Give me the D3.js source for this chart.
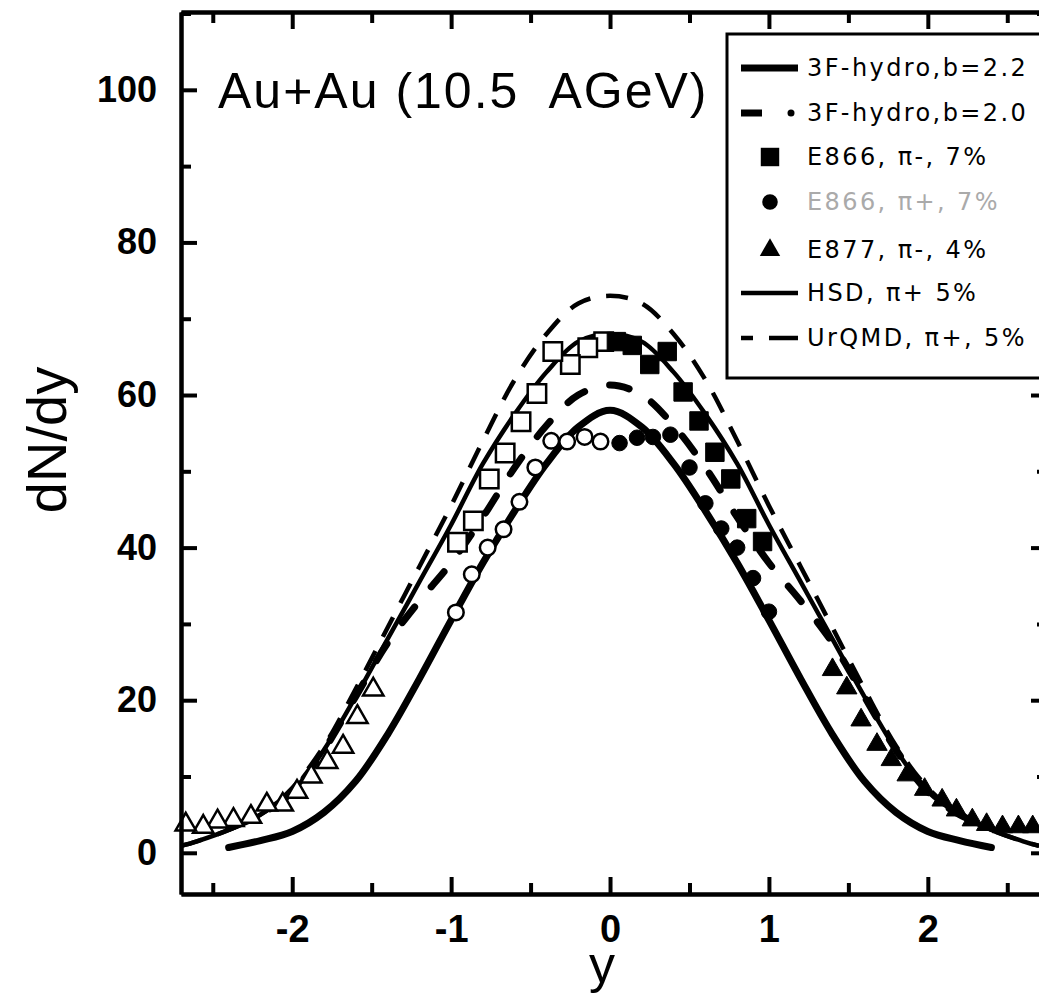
<!DOCTYPE html>
<html>
<head>
<meta charset="utf-8">
<script src="https://cdn.jsdelivr.net/npm/d3@7"></script>
<style>
  body { margin: 0; background: #fff; }
  svg { display: block; }
  .tick text { font-family: "Liberation Sans", Arial, sans-serif; font-weight: bold; }
</style>
</head>
<body>
<script>
// ---- data ----
var yTicksMajor = [0, 20, 40, 60, 80, 100];
var yTicksMinor = [10, 30, 50, 70, 90, 110];
var xTicksMajor = [-2, -1, 0, 1, 2];
var xTicksMinor = [-2.5, -1.5, -0.5, 0.5, 1.5, 2.5];

// 3F-hydro b=2.2 (thick solid)
var hydro22Y = [-2.4, -2.2, -2.0, -1.8, -1.6, -1.4, -1.2, -1.0, -0.8, -0.6, -0.4, -0.2, 0, 0.2, 0.4, 0.6, 0.8, 1.0, 1.2, 1.4, 1.6, 1.8, 2.0, 2.2, 2.4];
var hydro22V = [0.7, 1.6, 2.8, 5.3, 9.4, 15.5, 22.8, 30.5, 38, 44.8, 51, 55.8, 58, 55.8, 51, 44.8, 38, 30.5, 22.8, 15.5, 9.4, 5.3, 2.8, 1.6, 0.7];
// 3F-hydro b=2.0 (thick dashed)
var hydro20Y = [-2.4, -2.2, -2.0, -1.8, -1.6, -1.4, -1.2, -1.0, -0.8, -0.6, -0.4, -0.2, 0, 0.2, 0.4, 0.6, 0.8, 1.0, 1.2, 1.4, 1.6, 1.8, 2.0, 2.2, 2.4];
var hydro20V = [3.2, 5, 8, 13.5, 20.5, 27.5, 33, 38, 44, 50.5, 56, 60, 61.3, 60, 56, 50.5, 44, 38, 33, 27.5, 20.5, 13.5, 8, 5, 3.2];
// HSD (thin solid)
var hsdY = [-2.7, -2.6, -2.4, -2.2, -2.0, -1.8, -1.6, -1.4, -1.2, -1.0, -0.8, -0.6, -0.4, -0.2, 0, 0.2, 0.4, 0.6, 0.8, 1.0, 1.2, 1.4, 1.6, 1.8, 2.0, 2.2, 2.4, 2.6, 2.7];
var hsdV = [0.9, 1.5, 3, 5, 8, 13.5, 20.5, 28, 35.5, 43, 51, 57.5, 63, 67, 68, 67, 63, 57.5, 51, 43, 35.5, 28, 20.5, 13.5, 8, 5, 3, 1.5, 0.9];
// UrQMD (thin dashed)
var urqmdY = [-2.7, -2.6, -2.4, -2.2, -2.0, -1.8, -1.6, -1.4, -1.2, -1.0, -0.8, -0.6, -0.4, -0.2, 0, 0.2, 0.4, 0.6, 0.8, 1.0, 1.2, 1.4, 1.6, 1.8, 2.0, 2.2, 2.4, 2.6, 2.7];
var urqmdV = [0.9, 1.5, 3, 5, 8.5, 14, 21.5, 29.5, 37.5, 45.5, 54, 62, 68, 72, 73, 72, 68, 62, 54, 45.5, 37.5, 29.5, 21.5, 14, 8.5, 5, 3, 1.5, 0.9];

// E866 pi- (filled measured, open reflected)
var e866mY = [0.04, 0.14, 0.25, 0.36, 0.46, 0.56, 0.66, 0.76, 0.86, 0.96];
var e866mV = [67, 66.5, 64, 65.7, 60.4, 56.6, 52.5, 49, 43.8, 40.8];
var e866mReflY = [-0.04, -0.14, -0.25, -0.36, -0.46, -0.56, -0.66, -0.76, -0.86, -0.96];
var e866mReflV = [67, 66.2, 64, 65.7, 60.2, 56.5, 52.4, 49, 43.5, 40.7];
// E866 pi+
var e866pY = [0.06, 0.17, 0.27, 0.38, 0.5, 0.6, 0.7, 0.8, 0.9, 1.0];
var e866pV = [53.7, 54.4, 54.5, 54.8, 50.5, 45.8, 42.5, 40, 36, 31.6];
var e866pReflY = [-0.06, -0.16, -0.27, -0.37, -0.47, -0.57, -0.67, -0.77, -0.87, -0.97];
var e866pReflV = [53.9, 54.5, 53.9, 54, 50.5, 46, 42.4, 40, 36.5, 31.5];
// E877 pi-
var e877Y = [1.40, 1.49, 1.58, 1.68, 1.77, 1.87, 1.98, 2.09, 2.18, 2.28, 2.37, 2.47, 2.57, 2.66];
var e877V = [24, 21.6, 17.4, 14.2, 12.2, 10.2, 8.3, 6.9, 5.6, 4.3, 3.7, 3.4, 3.4, 3.4];
var e877ReflY = [-1.49, -1.59, -1.68, -1.78, -1.88, -1.97, -2.06, -2.16, -2.26, -2.37, -2.47, -2.56, -2.67];
var e877ReflV = [21.4, 17.8, 13.9, 11.9, 10, 8, 6.3, 6.3, 4.7, 4.3, 4.1, 3.4, 3.7];

var legendLabels = ["3F-hydro,b=2.2", "3F-hydro,b=2.0", "E866, \u03c0-, 7%", "E866, \u03c0+, 7%", "E877, \u03c0-, 4%", "HSD, \u03c0+ 5%", "UrQMD, \u03c0+, 5%"];

// ---- drawing ----
var W = 1039, H = 999;
var svg = d3.select("body").append("svg").attr("width", W).attr("height", H);

var x = d3.scaleLinear().domain([-2.7, 2.75]).range([181, 1047]);
var y = d3.scaleLinear().domain([-5.4, 110.2]).range([894, 12]);

function zip(a, b) { return a.map(function(d, i) { return [d, b[i]]; }); }

var line = d3.line()
    .x(function(d) { return x(d[0]); })
    .y(function(d) { return y(d[1]); })
    .curve(d3.curveCatmullRom);

var plot = svg.append("g").attr("class", "plot");

// curves
plot.append("path").datum(zip(urqmdY, urqmdV)).attr("d", line)
    .attr("fill", "none").attr("stroke", "#000").attr("stroke-width", 4.5)
    .attr("stroke-dasharray", "22,16");
plot.append("path").datum(zip(hsdY, hsdV)).attr("d", line)
    .attr("fill", "none").attr("stroke", "#000").attr("stroke-width", 4.5);
plot.append("path").datum(zip(hydro20Y, hydro20V)).attr("d", line)
    .attr("fill", "none").attr("stroke", "#000").attr("stroke-width", 7)
    .attr("stroke-linecap", "round").attr("stroke-dasharray", "20,26");
plot.append("path").datum(zip(hydro22Y, hydro22V)).attr("d", line)
    .attr("fill", "none").attr("stroke", "#000").attr("stroke-width", 7)
    .attr("stroke-linecap", "round");

// markers
var sq = d3.symbol().type(d3.symbolSquare).size(340);
var ci = d3.symbol().type(d3.symbolCircle).size(190);
var tr = d3.symbol().type(d3.symbolTriangle).size(180);

function marks(ys, vs, sym, filled) {
    plot.append("g").selectAll("path")
        .data(zip(ys, vs))
        .enter().append("path")
        .attr("transform", function(d) { return "translate(" + x(d[0]) + "," + y(d[1]) + ")"; })
        .attr("d", sym)
        .attr("fill", filled ? "#000" : "#fff")
        .attr("stroke", "#000")
        .attr("stroke-width", filled ? 1 : 2.5);
}
marks(e866mReflY, e866mReflV, sq, false);
marks(e866mY, e866mV, sq, true);
marks(e866pReflY, e866pReflV, ci, false);
marks(e866pY, e866pV, ci, true);
marks(e877ReflY, e877ReflV, tr, false);
marks(e877Y, e877V, tr, true);

// axes, ticks pointing inward on all four sides
function styleAxis(g) {
    g.select(".domain").attr("stroke-width", 4);
    g.selectAll(".tick line").attr("stroke-width", 4);
}
svg.append("g").attr("transform", "translate(0,894)")
    .call(d3.axisBottom(x).tickValues(xTicksMajor).tickSizeInner(-17).tickSizeOuter(0).tickPadding(21)
        .tickFormat(function(d) { return String(d); }))
    .call(styleAxis)
    .selectAll("text").attr("font-size", 38);
svg.append("g").attr("transform", "translate(0,894)")
    .call(d3.axisBottom(x).tickValues(xTicksMinor).tickSizeInner(-11).tickSizeOuter(0).tickFormat(""))
    .call(styleAxis);
svg.append("g").attr("transform", "translate(0,12)")
    .call(d3.axisTop(x).tickValues(xTicksMajor).tickSizeInner(-17).tickSizeOuter(0).tickFormat(""))
    .call(styleAxis);
svg.append("g").attr("transform", "translate(0,12)")
    .call(d3.axisTop(x).tickValues(xTicksMinor).tickSizeInner(-11).tickSizeOuter(0).tickFormat(""))
    .call(styleAxis);
svg.append("g").attr("transform", "translate(181,0)")
    .call(d3.axisLeft(y).tickValues(yTicksMajor).tickSizeInner(-16).tickSizeOuter(0).tickPadding(24)
        .tickFormat(function(d) { return String(d); }))
    .call(styleAxis)
    .selectAll("text").attr("font-size", 36);
svg.append("g").attr("transform", "translate(181,0)")
    .call(d3.axisLeft(y).tickValues(yTicksMinor).tickSizeInner(-10).tickSizeOuter(0).tickFormat(""))
    .call(styleAxis);
svg.append("g").attr("transform", "translate(1047,0)")
    .call(d3.axisRight(y).tickValues(yTicksMajor).tickSizeInner(-16).tickSizeOuter(0).tickFormat(""))
    .call(styleAxis);
svg.append("g").attr("transform", "translate(1047,0)")
    .call(d3.axisRight(y).tickValues(yTicksMinor).tickSizeInner(-10).tickSizeOuter(0).tickFormat(""))
    .call(styleAxis);

// axis titles
svg.append("text").attr("x", 602).attr("y", 982)
    .attr("text-anchor", "middle").attr("font-family", "Liberation Sans, Arial, sans-serif")
    .attr("font-size", 52).text("y");
svg.append("text").attr("transform", "translate(66,440) rotate(-90)")
    .attr("text-anchor", "middle").attr("font-family", "Liberation Sans, Arial, sans-serif")
    .attr("font-size", 56).text("dN/dy");

// title inside the frame
svg.append("text").attr("x", 218).attr("y", 108)
    .attr("font-family", "Liberation Sans, Arial, sans-serif").attr("font-size", 50)
    .attr("letter-spacing", 2)
    .style("white-space", "pre").text("Au+Au (10.5  AGeV)");

// legend
var leg = svg.append("g").attr("class", "legend");
leg.append("rect").attr("x", 727).attr("y", 34).attr("width", 330).attr("height", 344)
    .attr("fill", "#fff").attr("stroke", "#000").attr("stroke-width", 3);
var rowY = [68, 113, 157, 202, 250, 293, 338];
leg.selectAll("text").data(legendLabels).enter().append("text")
    .attr("x", 807).attr("y", function(d, i) { return rowY[i] + 8; })
    .attr("font-family", "DejaVu Sans, sans-serif").attr("font-size", 24)
    .attr("letter-spacing", 2.4)
    .attr("fill", function(d, i) { return i === 3 ? "#aaa" : "#000"; })
    .text(function(d) { return d; });
leg.append("line").attr("x1", 741).attr("x2", 798).attr("y1", rowY[0]).attr("y2", rowY[0])
    .attr("stroke", "#000").attr("stroke-width", 7);
leg.append("line").attr("x1", 741).attr("x2", 762).attr("y1", rowY[1]).attr("y2", rowY[1])
    .attr("stroke", "#000").attr("stroke-width", 7);
leg.append("circle").attr("cx", 791).attr("cy", rowY[1]).attr("r", 3.5).attr("fill", "#000");
leg.append("path").attr("transform", "translate(770," + rowY[2] + ")").attr("d", sq).attr("fill", "#000");
leg.append("path").attr("transform", "translate(770," + rowY[3] + ")").attr("d", ci).attr("fill", "#000");
leg.append("path").attr("transform", "translate(770," + rowY[4] + ")").attr("d", tr).attr("fill", "#000");
leg.append("line").attr("x1", 741).attr("x2", 798).attr("y1", rowY[5]).attr("y2", rowY[5])
    .attr("stroke", "#000").attr("stroke-width", 4.5);
leg.append("line").attr("x1", 741).attr("x2", 798).attr("y1", rowY[6]).attr("y2", rowY[6])
    .attr("stroke", "#000").attr("stroke-width", 4.5).attr("stroke-dasharray", "12,16,30");
</script>
</body>
</html>
